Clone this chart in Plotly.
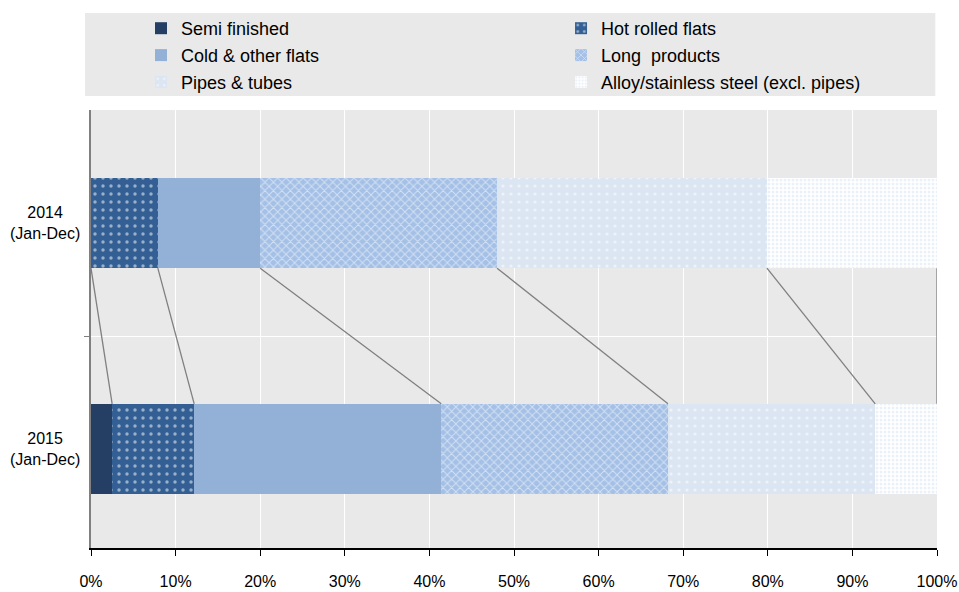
import plotly.graph_objects as go

categories = ["2014<br>(Jan-Dec)", "2015<br>(Jan-Dec)"]
series_names = ["Semi finished", "Hot rolled flats", "Cold & other flats",
                "Long  products", "Pipes & tubes", "Alloy/stainless steel (excl. pipes)"]
values_2014 = [0.0, 7.9, 12.1, 28.0, 31.9, 20.1]
values_2015 = [2.5, 9.7, 29.2, 26.8, 24.5, 7.3]
tick_vals = [0, 10, 20, 30, 40, 50, 60, 70, 80, 90, 100]
tick_text = [f"{v}%" for v in tick_vals]

ypos = [1, 0]  # 2014 on top, 2015 below
bar_w = 0.4

styles = [
    dict(color="#243f63", pattern=None),
    dict(color="#335f94", pattern=dict(shape=".", bgcolor="#335f94", fgcolor="#ffffff", size=8, solidity=0.15)),
    dict(color="#93b1d6", pattern=None),
    dict(color="#a4c0e6", pattern=dict(shape="x", bgcolor="#a4c0e6", fgcolor="#ffffff", size=6, solidity=0.3)),
    dict(color="#dce6f2", pattern=dict(shape=".", bgcolor="#dce6f2", fgcolor="#ffffff", size=8, solidity=0.12)),
    dict(color="#ffffff", pattern=dict(shape=".", bgcolor="#ffffff", fgcolor="#d8e3f3", size=4, solidity=0.45)),
]
legend_col = ["legend", "legend2", "legend", "legend2", "legend", "legend2"]

font_family = "Liberation Sans, Arial, sans-serif"

fig = go.Figure()
for i, name in enumerate(series_names):
    st = styles[i]
    marker = dict(color=st["color"], line=dict(width=0))
    if st["pattern"] is not None:
        marker["pattern"] = st["pattern"]
    fig.add_trace(go.Bar(
        name=name, orientation="h",
        x=[values_2014[i], values_2015[i]], y=ypos,
        width=bar_w, marker=marker, legend=legend_col[i],
        legendgroup=f"g{i}",
    ))

# connector lines between cumulative boundaries
cum14, cum15 = [], []
s14 = s15 = 0.0
for a, b in zip(values_2014, values_2015):
    s14 += a
    s15 += b
    cum14.append(s14)
    cum15.append(s15)
for a, b in zip(cum14, cum15):
    fig.add_trace(go.Scatter(
        x=[a, b], y=[ypos[0] - bar_w / 2, ypos[1] + bar_w / 2],
        mode="lines", line=dict(color="#808080", width=1.3),
        showlegend=False, hoverinfo="skip", cliponaxis=False,
    ))

# category labels, centered
for cat, y in zip(categories, ypos):
    fig.add_annotation(
        x=-0.054, xref="paper", y=y, yref="y", text=cat, showarrow=False,
        align="center", xanchor="center", yanchor="middle",
        font=dict(family=font_family, size=16, color="#000000"),
    )

# legend background box
fig.add_shape(type="rect", xref="paper", yref="paper",
              x0=-0.007, x1=0.998, y0=1.032, y1=1.2215,
              fillcolor="#e9e9e9", line=dict(width=0), layer="below")

legend_common = dict(
    orientation="v", yanchor="top", xanchor="left", y=0.9831, yref="container",
    bgcolor="rgba(0,0,0,0)", tracegroupgap=0.5,
    font=dict(family=font_family, size=18, color="#000000"),
    itemclick=False, itemdoubleclick=False,
)

fig.update_layout(
    width=959, height=592,
    margin=dict(l=91, r=22, t=110, b=44, autoexpand=False),
    paper_bgcolor="#ffffff",
    plot_bgcolor="#e9e9e9",
    barmode="stack",
    bargap=0,
    font=dict(family=font_family, size=16, color="#000000"),
    showlegend=True,
    legend=dict(x=0.0591, **legend_common),
    legend2=dict(x=0.5556, **legend_common),
    xaxis=dict(
        range=[0, 100], tickvals=tick_vals, ticktext=tick_text,
        showgrid=True, gridcolor="#ffffff", gridwidth=1.3,
        ticks="outside", ticklen=6, tickcolor="#000000", tickwidth=1.3,
        showline=True, linecolor="#000000", linewidth=2,
        zeroline=False, ticklabelstandoff=12, automargin=False,
        tickfont=dict(family=font_family, size=16),
    ),
    yaxis=dict(
        range=[-0.438, 1.5], tickvals=[0.5], showticklabels=False,
        showgrid=True, gridcolor="#ffffff", gridwidth=1.3,
        ticks="outside", ticklen=5, tickcolor="#808080",
        showline=True, linecolor="#808080", linewidth=2,
        zeroline=False, automargin=False,
    ),
)

fig.write_html("out.html")
